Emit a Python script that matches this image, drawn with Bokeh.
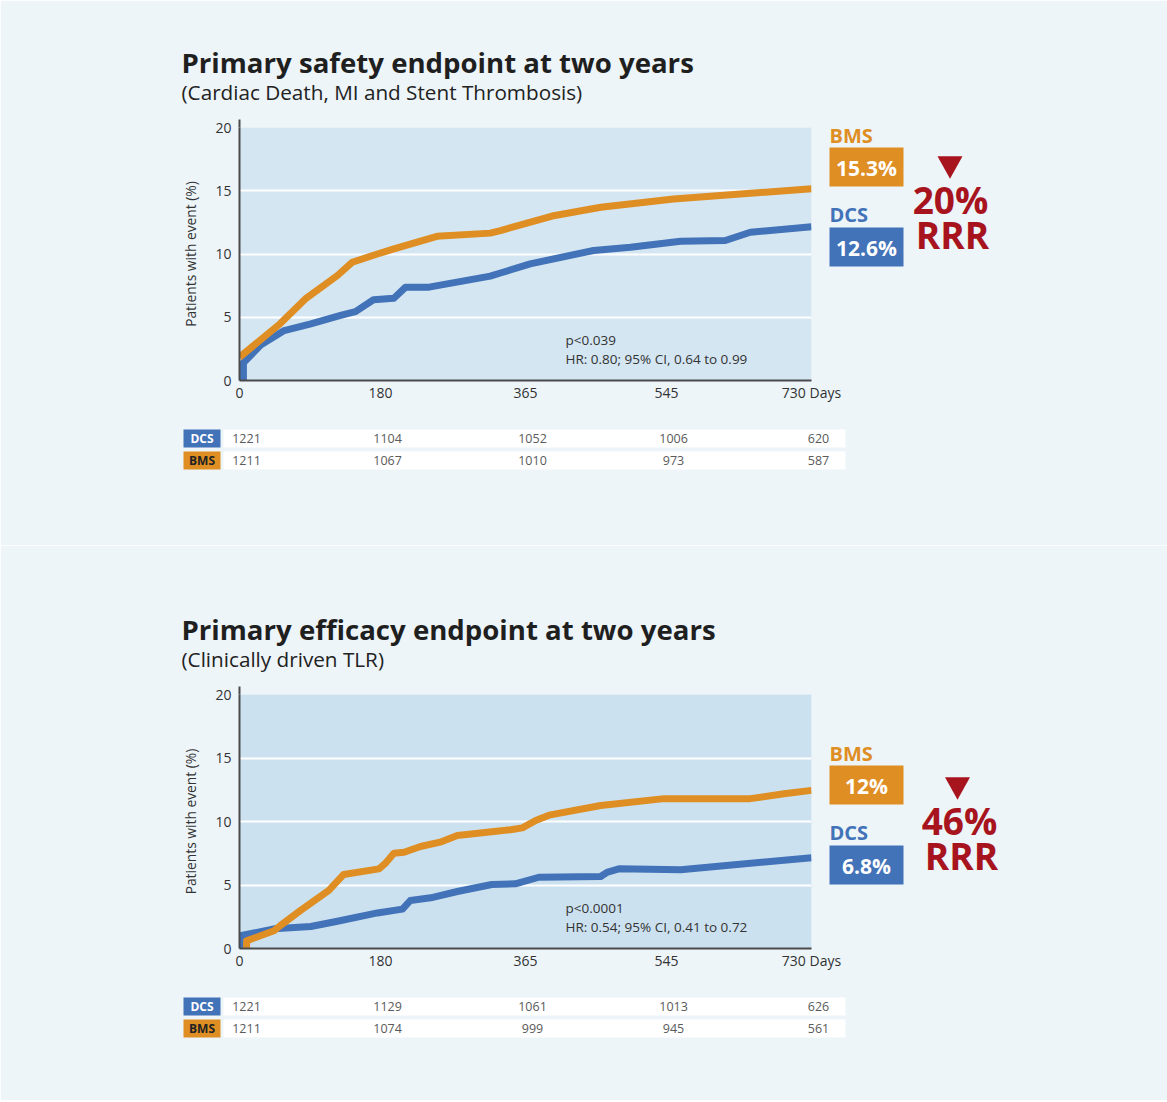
from bokeh.plotting import figure
from bokeh.layouts import column
from bokeh.models import FixedTicker, Range1d
from bokeh.core.properties import value
from bokeh.embed import file_html
from bokeh.resources import INLINE

# ---------------- data ----------------
tick_days = [0, 180, 365, 545, 730]

# Primary safety endpoint (Kaplan-Meier, % patients with event)
safety_dcs_days = [5, 5, 27, 57, 91, 129, 148, 171, 197, 212, 242, 265, 320, 333, 371, 452, 499, 563, 620, 652, 730]
safety_dcs_vals = [0.0, 1.4, 2.8, 3.95, 4.48, 5.14, 5.45, 6.38, 6.5, 7.38, 7.38, 7.64, 8.25, 8.5, 9.22, 10.28, 10.54, 11.0, 11.07, 11.72, 12.15]
safety_bms_days = [0, 52, 84, 125, 144, 176, 197, 252, 320, 333, 399, 461, 554, 652, 730]
safety_bms_vals = [1.84, 4.5, 6.45, 8.3, 9.35, 10.0, 10.4, 11.4, 11.65, 11.85, 13.0, 13.7, 14.35, 14.8, 15.15]

# Primary efficacy endpoint
efficacy_dcs_days = [1, 1, 44, 91, 125, 176, 208, 218, 244, 278, 322, 352, 382, 461, 469, 484, 563, 730]
efficacy_dcs_vals = [0.0, 1.0, 1.55, 1.73, 2.15, 2.8, 3.1, 3.78, 3.99, 4.49, 5.04, 5.09, 5.61, 5.67, 6.0, 6.27, 6.2, 7.15]
efficacy_bms_days = [9, 9, 44, 52, 78, 114, 133, 178, 186, 197, 210, 231, 256, 278, 346, 361, 378, 395, 461, 542, 652, 695, 730]
efficacy_bms_vals = [0.0, 0.6, 1.4, 1.8, 3.0, 4.57, 5.83, 6.27, 6.7, 7.5, 7.58, 8.03, 8.37, 8.9, 9.35, 9.5, 10.08, 10.5, 11.26, 11.8, 11.8, 12.18, 12.45]

# numbers at risk
safety_risk_dcs = [1221, 1104, 1052, 1006, 620]
safety_risk_bms = [1211, 1067, 1010, 973, 587]
efficacy_risk_dcs = [1221, 1129, 1061, 1013, 626]
efficacy_risk_bms = [1211, 1074, 999, 945, 561]

# headline numbers
safety_bms_pct, safety_dcs_pct, safety_rrr = "15.3%", "12.6%", "20%"
efficacy_bms_pct, efficacy_dcs_pct, efficacy_rrr = "12%", "6.8%", "46%"

# ---------------- style ----------------
FONT = value("Open Sans")
ORANGE = "#DF8E24"
BLUE = "#4272B8"
RED = "#A8141E"
BG = "#EDF5F9"
AXIS = "#4a4a4a"
DARK = "#1f1f1f"
FRAME_L, FRAME_R = 239, 811
W = 1167


def make_panel(fig_top, T, B, height, frame_bg, title, subtitle, pval, hr,
               dcs_days, dcs_vals, bms_days, bms_vals, risk_dcs, risk_bms,
               bms_pct, dcs_pct, rrr, side):
    p = figure(width=W, height=height, x_range=Range1d(0, 730), y_range=Range1d(0, 20),
               output_backend="svg", toolbar_location=None,
               min_border_left=FRAME_L, min_border_right=W - FRAME_R,
               min_border_top=T - fig_top, min_border_bottom=height - (B - fig_top))
    p.background_fill_color = frame_bg
    p.border_fill_color = BG
    p.outline_line_color = None

    def X(px):
        return (px - FRAME_L) * 730.0 / (FRAME_R - FRAME_L)

    def Y(py):
        return (B - py) * 20.0 / (B - T)

    def txt(px, py, s, size, color, bold=False, align="left", baseline="middle"):
        p.text(x=[X(px)], y=[Y(py)], text=[s], text_font=FONT, text_font_size=f"{size}px",
               text_font_style="bold" if bold else "normal", text_color=color,
               text_align=align, text_baseline=baseline, level="overlay")

    # axes
    p.xaxis.ticker = FixedTicker(ticks=tick_days)
    p.xaxis.major_label_overrides = {730: "730 Days"}
    p.yaxis.ticker = FixedTicker(ticks=[0, 5, 10, 15, 20])
    for ax in (p.xaxis, p.yaxis):
        ax.axis_line_color = AXIS
        ax.axis_line_width = 2
        ax.major_tick_line_color = None
        ax.minor_tick_line_color = None
        ax.major_tick_in = 0
        ax.major_tick_out = 0
        ax.major_label_text_font = "Open Sans"
        ax.major_label_text_font_size = "14px"
        ax.major_label_text_color = "#333333"
    p.xaxis.major_label_standoff = 2
    p.yaxis.major_label_standoff = 8
    p.yaxis.axis_label = "Patients with event (%)"
    p.yaxis.axis_label_text_font = "Open Sans"
    p.yaxis.axis_label_text_font_size = "13.8px"
    p.yaxis.axis_label_text_font_style = "normal"
    p.yaxis.axis_label_text_color = "#333333"
    p.yaxis.axis_label_standoff = 12
    p.xgrid.visible = False
    p.ygrid.grid_line_color = "white"
    p.ygrid.grid_line_width = 2

    # y axis extension above frame
    p.segment(x0=[0], y0=[20], x1=[0], y1=[Y(T - 8)], line_color=AXIS, line_width=2, level="overlay")

    # curves
    p.line(dcs_days, dcs_vals, line_color=BLUE, line_width=7, line_join="round")
    p.line(bms_days, bms_vals, line_color=ORANGE, line_width=7, line_join="round")

    # stats text
    txt(565, B - 41, pval, 13.5, "#333333", baseline="alphabetic")
    txt(565, B - 22, hr, 13.5, "#333333", baseline="alphabetic")

    # titles
    txt(181, T - 66, title, 27.6, DARK, bold=True, baseline="alphabetic")
    txt(181, T - 36, subtitle, 20.7, "#222222", baseline="alphabetic")

    # side annotation
    s = side
    txt(829, s["bms_y"], "BMS", 20, ORANGE, bold=True)
    p.quad(left=[X(829)], right=[X(903)], top=[Y(s["bms_box"])], bottom=[Y(s["bms_box"] + 39)],
           fill_color=ORANGE, line_color=None, level="overlay")
    txt(866, s["bms_box"] + 20, bms_pct, 21, "white", bold=True, align="center")
    txt(829, s["dcs_y"], "DCS", 20, BLUE, bold=True)
    p.quad(left=[X(829)], right=[X(903)], top=[Y(s["dcs_box"])], bottom=[Y(s["dcs_box"] + 39)],
           fill_color=BLUE, line_color=None, level="overlay")
    txt(866, s["dcs_box"] + 20, dcs_pct, 21, "white", bold=True, align="center")
    tx, ty = s["tri_x"], s["tri_top"]
    p.patch(x=[X(tx - 12.5), X(tx + 12.5), X(tx)], y=[Y(ty), Y(ty), Y(ty + 22.6)],
            fill_color=RED, line_color=None, level="overlay")
    txt(s["rrr_x"], s["rrr_y"], rrr, 37, RED, bold=True, align="center")
    txt(s["rrr_x"] + 2, s["rrr_y"] + 35, "RRR", 37, RED, bold=True, align="center")

    # numbers at risk table
    rows = [("DCS", risk_dcs, BLUE, "white", B + 49), ("BMS", risk_bms, ORANGE, "#222222", B + 71)]
    for name, vals, col, tcol, top in rows:
        p.quad(left=[X(183)], right=[X(220)], top=[Y(top)], bottom=[Y(top + 18)],
               fill_color=col, line_color=None, level="overlay")
        p.quad(left=[X(223)], right=[X(845)], top=[Y(top)], bottom=[Y(top + 18)],
               fill_color="white", line_color=None, level="overlay")
        txt(201.5, top + 9, name, 12, tcol, bold=True, align="center")
        p.text(x=tick_days, y=[Y(top + 8.5)] * len(vals), text=[str(v) for v in vals],
               x_offset=7, text_font=FONT, text_font_size="12.5px", text_color="#5a5a5a",
               text_align="center", text_baseline="middle", level="overlay")
    return p


p1 = make_panel(0, 127, 380, 545, "#D4E6F2",
                "Primary safety endpoint at two years",
                "(Cardiac Death, MI and Stent Thrombosis)",
                "p<0.039", "HR: 0.80; 95% CI, 0.64 to 0.99",
                safety_dcs_days, safety_dcs_vals, safety_bms_days, safety_bms_vals,
                safety_risk_dcs, safety_risk_bms,
                safety_bms_pct, safety_dcs_pct, safety_rrr,
                dict(bms_y=135, bms_box=147, dcs_y=214, dcs_box=227,
                     tri_x=949.5, tri_top=155.7, rrr_x=950, rrr_y=198.5))

p2 = make_panel(545, 694, 948, 555, "#CCE1EF",
                "Primary efficacy endpoint at two years",
                "(Clinically driven TLR)",
                "p<0.0001", "HR: 0.54; 95% CI, 0.41 to 0.72",
                efficacy_dcs_days, efficacy_dcs_vals, efficacy_bms_days, efficacy_bms_vals,
                efficacy_risk_dcs, efficacy_risk_bms,
                efficacy_bms_pct, efficacy_dcs_pct, efficacy_rrr,
                dict(bms_y=753, bms_box=765, dcs_y=832, dcs_box=845,
                     tri_x=957, tri_top=776.7, rrr_x=959, rrr_y=820))

layout = column(p1, p2)
html = file_html(layout, INLINE, title="Primary endpoints at two years")
html = html.replace("<body>", '<body style="background-color:%s;">' % BG, 1)
open("out.html", "w").write(html)
